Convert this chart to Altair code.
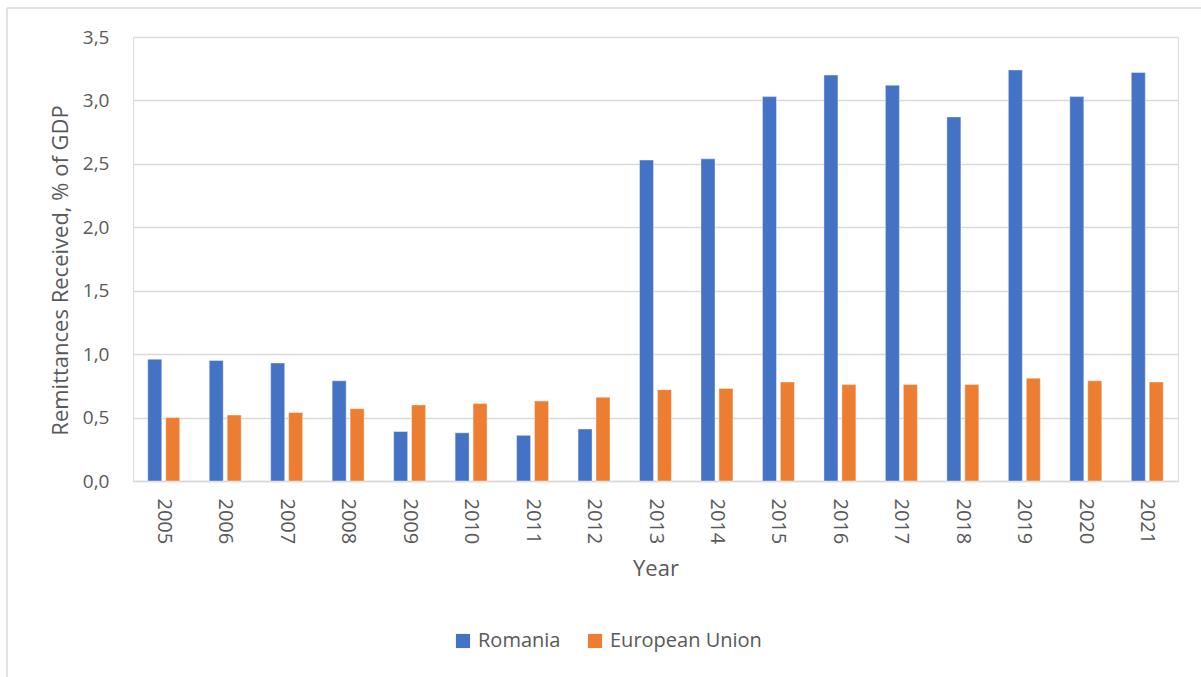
import altair as alt
import pandas as pd

years = ["2005", "2006", "2007", "2008", "2009", "2010", "2011", "2012", "2013",
         "2014", "2015", "2016", "2017", "2018", "2019", "2020", "2021"]
romania = [0.96, 0.95, 0.93, 0.79, 0.39, 0.38, 0.36, 0.41, 2.53,
           2.54, 3.03, 3.20, 3.12, 2.87, 3.24, 3.03, 3.22]
eu = [0.50, 0.52, 0.54, 0.57, 0.60, 0.61, 0.63, 0.66, 0.72,
      0.73, 0.78, 0.76, 0.76, 0.76, 0.81, 0.79, 0.78]
series = ["Romania", "European Union"]
colors = ["#4472C4", "#ED7D31"]

rows = []
for i, y in enumerate(years):
    rows.append({"Year": y, "Series": series[0], "Value": romania[i]})
    rows.append({"Year": y, "Series": series[1], "Value": eu[i]})
df = pd.DataFrame(rows)

FONT = "Open Sans"
TXT = "#595959"

bars = alt.Chart(df).mark_bar(stroke="#ffffff", strokeWidth=0.8, strokeOpacity=0.5).encode(
    x=alt.X("Year:N", sort=years,
            scale=alt.Scale(paddingInner=0.48, paddingOuter=0.24),
            axis=alt.Axis(title="Year", labelAngle=90, labelAlign="left", labelBaseline="middle",
                          labelFontSize=20, labelColor=TXT, labelFont=FONT, labelPadding=17,
                          ticks=False, domainColor="#d9d9d9", domainWidth=1.5,
                          titleFontSize=22, titleFont=FONT, titleColor=TXT,
                          titleFontWeight="normal", titlePadding=15)),
    xOffset=alt.XOffset("Series:N", sort=series, scale=alt.Scale(paddingInner=0.22)),
    y=alt.Y("Value:Q", scale=alt.Scale(domain=[0, 3.5], nice=False),
            axis=alt.Axis(title="Remittances Received, % of GDP", values=[0, 0.5, 1, 1.5, 2, 2.5, 3, 3.5],
                          labelExpr="replace(format(datum.value, '.1f'), '.', ',')",
                          labelFontSize=19, labelColor=TXT, labelFont=FONT, labelPadding=24,
                          ticks=False, domain=False, gridColor="#d9d9d9", gridWidth=1.5,
                          titleFontSize=22, titleFont=FONT, titleColor=TXT,
                          titleFontWeight="normal", titlePadding=10, titleY=233)),
    color=alt.Color("Series:N", sort=series,
                    scale=alt.Scale(domain=series, range=colors),
                    legend=alt.Legend(title=None, orient="none", direction="horizontal",
                                      legendX=320, legendY=594,
                                      symbolType="square", symbolSize=200, symbolStrokeWidth=0,
                                      labelFontSize=20, labelFont=FONT, labelColor=TXT,
                                      columnPadding=24, labelOffset=5)),
)

one = pd.DataFrame({"a": [0]})
top_border = alt.Chart(one).mark_rule(color="#d9d9d9", strokeWidth=1.5).encode(
    x=alt.value(-126), x2=alt.value(1068), y=alt.value(-29))
left_border = alt.Chart(one).mark_rule(color="#d9d9d9", strokeWidth=1.5).encode(
    x=alt.value(-126), y=alt.value(-29), y2=alt.value(650))

chart = alt.layer(top_border, left_border, bars).properties(
    width=1045, height=444,
    autosize=alt.AutoSizeParams(type="none"),
    padding={"left": 133, "top": 37, "right": 23, "bottom": 196},
).configure_view(stroke=None).configure(background="#ffffff")

chart.save("out.html", embed_options={"renderer": "svg", "actions": False})
